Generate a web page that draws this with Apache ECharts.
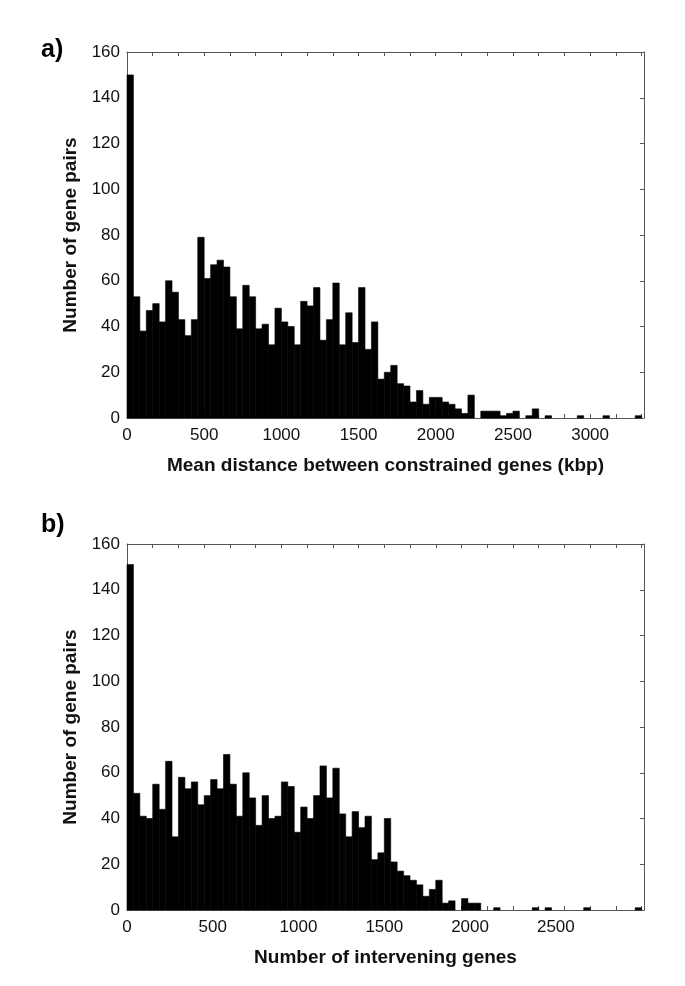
<!DOCTYPE html>
<html>
<head>
<meta charset="utf-8">
<script src="https://cdn.jsdelivr.net/npm/echarts@6/dist/echarts.min.js"></script>
<style>
html,body{margin:0;padding:0;background:#fff;}
#c{width:685px;height:986px;}
</style>
</head>
<body>
<div id="c"></div>
<script>
// Panel a: mean distance between constrained genes (kbp), 80 bins
const binWidthA = 500 / 12;
const countsA = [150,53,38,47,50,42,60,55,43,36,43,79,61,67,69,66,53,39,58,53,
  39,41,32,48,42,40,32,51,49,57,34,43,59,32,46,33,57,30,42,17,
  20,23,15,14,7,12,6,9,9,7,6,4,2,10,0,3,3,3,1,2,
  3,0,1,4,0,1,0,0,0,0,1,0,0,0,1,0,0,0,0,1];
const xLabelsA = [0,500,1000,1500,2000,2500,3000];

// Panel b: number of intervening genes, 80 bins
const binWidthB = 37.5;
const countsB = [151,51,41,40,55,44,65,32,58,53,56,46,50,57,53,68,55,41,60,49,
  37,50,40,41,56,54,34,45,40,50,63,49,62,42,32,43,36,41,22,25,
  40,21,17,15,13,11,6,9,13,3,4,0,5,3,3,0,0,1,0,0,
  0,0,0,1,0,1,0,0,0,0,0,1,0,0,0,0,0,0,0,1];
const xLabelsB = [0,500,1000,1500,2000,2500];

const yLabels = [0,20,40,60,80,100,120,140,160];

const xMaxA = 3349, xMaxB = 3014;

function binsOf(counts, w){ return counts.map((c,i)=>[i*w,(i+1)*w,c]); }
function tickEdges(counts, w){ const t=[]; for(let i=0;i<=counts.length;i+=4) t.push(i*w); return t; }

const FONT = 'Liberation Sans, Arial, sans-serif';
const axisColor = '#555';
const txt = '#111';
const plain = v => String(Math.round(v));

function xAxes(gridIndex, max, labels, ticks, name){
  return [{
    type:'value', gridIndex, min:0, max, position:'bottom',
    axisLine:{show:true, onZero:false, lineStyle:{color:axisColor, width:1}},
    axisTick:{show:true, inside:true, length:4, customValues:ticks, lineStyle:{color:axisColor}},
    axisLabel:{customValues:labels, formatter:plain, color:txt, fontFamily:FONT, fontSize:17, margin:9},
    splitLine:{show:false},
    name, nameLocation:'middle', nameGap:38,
    nameTextStyle:{color:txt, fontFamily:FONT, fontSize:19, fontWeight:'bold'}
  },{
    type:'value', gridIndex, min:0, max, position:'top',
    axisLine:{show:true, onZero:false, lineStyle:{color:axisColor, width:1}},
    axisTick:{show:true, inside:true, length:4, customValues:ticks, lineStyle:{color:axisColor}},
    axisLabel:{show:false}, splitLine:{show:false}
  }];
}
function yAxes(gridIndex){
  return [{
    type:'value', gridIndex, min:0, max:160, interval:20, position:'left',
    axisLine:{show:true, onZero:false, lineStyle:{color:axisColor, width:1}},
    axisTick:{show:true, inside:true, length:4, lineStyle:{color:axisColor}},
    axisLabel:{customValues:yLabels, formatter:plain, color:txt, fontFamily:FONT, fontSize:17, margin:7},
    splitLine:{show:false},
    name:'Number of gene pairs', nameLocation:'middle', nameGap:41,
    nameTextStyle:{color:txt, fontFamily:FONT, fontSize:19, fontWeight:'bold'}
  },{
    type:'value', gridIndex, min:0, max:160, interval:20, position:'right',
    axisLine:{show:true, onZero:false, lineStyle:{color:axisColor, width:1}},
    axisTick:{show:true, inside:true, length:4, lineStyle:{color:axisColor}},
    axisLabel:{show:false}, splitLine:{show:false}
  }];
}

function histSeries(xi, yi, counts, w){
  return {
    type:'custom', xAxisIndex:xi, yAxisIndex:yi,
    data: binsOf(counts, w),
    encode:{x:[0,1], y:2},
    renderItem:function(params, api){
      const v = api.value(2);
      if(!v) return null;
      const p0 = api.coord([api.value(0), v]);
      const p1 = api.coord([api.value(1), 0]);
      return {type:'rect', shape:{x:p0[0], y:p0[1], width:p1[0]-p0[0], height:p1[1]-p0[1]},
              style:{fill:'#000', stroke:'#000', lineWidth:0.6}};
    },
    z:1
  };
}

const chart = echarts.init(document.getElementById('c'), null, {renderer:'canvas'});
chart.setOption({
  backgroundColor:'#fff',
  animation:false,
  title:[
    {text:'a)', left:36, top:33, textStyle:{fontFamily:FONT, fontSize:25, fontWeight:'bold', color:'#000'}},
    {text:'b)', left:36, top:508, textStyle:{fontFamily:FONT, fontSize:25, fontWeight:'bold', color:'#000'}}
  ],
  grid:[
    {left:127, top:52, width:517, height:366},
    {left:127, top:544, width:517, height:366}
  ],
  xAxis:[
    ...xAxes(0, xMaxA, xLabelsA, tickEdges(countsA, binWidthA), 'Mean distance between constrained genes (kbp)'),
    ...xAxes(1, xMaxB, xLabelsB, tickEdges(countsB, binWidthB), 'Number of intervening genes')
  ],
  yAxis:[ ...yAxes(0), ...yAxes(1) ],
  series:[
    histSeries(0, 0, countsA, binWidthA),
    histSeries(2, 2, countsB, binWidthB)
  ]
});
</script>
</body>
</html>
